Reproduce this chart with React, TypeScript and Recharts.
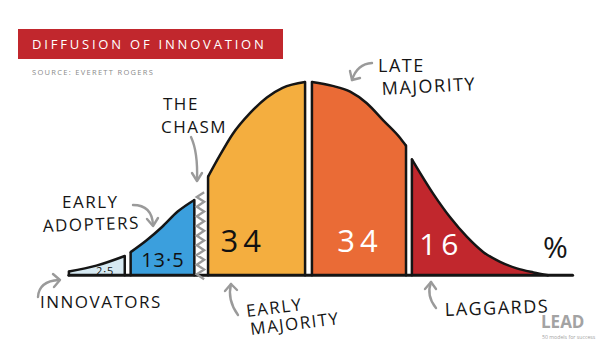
import React from 'react';
import { ComposedChart, Area, Scatter, XAxis, YAxis, ReferenceLine, ReferenceDot } from 'recharts';

// curve: x in standard deviations from the mean, y in % of peak height
const innovatorsX = [-2.45, -2.17, -1.88];
const innovatorsY = [2, 5, 10];
const earlyAdoptersX = [-1.82, -1.66, -1.5, -1.34, -1.17];
const earlyAdoptersY = [12, 18, 25, 33, 39];
const earlyMajorityX = [-1.03, -0.91, -0.78, -0.6, -0.43, -0.27, -0.04];
const earlyMajorityY = [51, 62, 73, 84, 92, 97, 100];
const lateMajorityX = [0.03, 0.24, 0.42, 0.59, 0.76, 0.93, 0.99];
const lateMajorityY = [100, 98, 95, 89, 80, 71, 67];
const laggardsX = [1.05, 1.27, 1.44, 1.61, 1.78, 1.95, 2.12, 2.29, 2.44];
const laggardsY = [60, 42, 30, 20, 12, 7, 3.6, 1.5, 0];

const groupKeys = ['innovators', 'earlyAdopters', 'earlyMajority', 'lateMajority', 'laggards'];
const groupShares = ['2·5', '13·5', '34', '34', '16'];

// the chasm squiggle between early adopters and early majority
const chasmX = [-1.07, -1.145, -1.07, -1.145, -1.07, -1.145, -1.07, -1.145, -1.07, -1.145, -1.07, -1.145, -1.07, -1.145, -1.07, -1.145, -1.07, -1.145, -1.07];
const chasmY = [-2, 0.5, 3, 5.5, 8, 10.5, 13, 15.5, 18, 20.5, 23, 25.5, 28, 30.5, 33, 35.5, 38, 40.5, 43];

const xs = [innovatorsX, earlyAdoptersX, earlyMajorityX, lateMajorityX, laggardsX];
const ys = [innovatorsY, earlyAdoptersY, earlyMajorityY, lateMajorityY, laggardsY];

const fills = ['#d6e9f2', '#3b9fdd', '#f4ae3f', '#ea6b36', '#c1272d'];
const shareColors = ['#111', '#111', '#111', '#fff', '#fff'];
const shareSizes = [11, 20, 31, 31, 30];
const shareSpots = [[-2.08, 2], [-1.49, 8], [-0.67, 18], [0.52, 18], [1.35, 16]];
const baselineEnd = 2.69;

const curveData = groupKeys.flatMap((key, g) => xs[g].map((x, i) => ({ x, [key]: ys[g][i] })));
const chasmData = chasmX.map((x, i) => ({ x, y: chasmY[i] }));

const FONT = '"Open Sans", "DejaVu Sans", sans-serif';
const INK = '#151515';
const GREY = '#9a9a9a';

const Arrow = ({ d, head }: { d: string; head: string }) => (
  <g fill="none" stroke={GREY} strokeWidth={2.4} strokeLinecap="round" strokeLinejoin="round">
    <path d={d} />
    <path d={head} />
  </g>
);

const Note = ({ x, y, children, size = 17, rotate = 0 }: any) => (
  <text x={x} y={y} fontSize={size} fill={INK} fontFamily={FONT} letterSpacing={1.5}
    transform={rotate ? `rotate(${rotate} ${x} ${y})` : undefined}>
    {children}
  </text>
);

const App = () => (
  <div style={{ position: 'absolute', left: 0, top: 0, width: 616, height: 353, background: '#fff', overflow: 'hidden' }}>
    <ComposedChart width={616} height={353} data={curveData} margin={{ top: 82, right: 13, bottom: 68, left: 15 }}>
      <XAxis dataKey="x" type="number" domain={[-3, 3]} hide />
      <YAxis type="number" domain={[-5, 100]} hide />
      {groupKeys.map((key, g) => (
        <Area key={key} dataKey={key} type="monotone" baseValue={0} stroke={INK} strokeWidth={2.5}
          fill={fills[g]} fillOpacity={1} dot={false} activeDot={false} isAnimationActive={false} />
      ))}
      {groupKeys.map((key, g) => {
        const first = xs[g][0];
        const last = xs[g][xs[g].length - 1];
        return [
          <ReferenceLine key={key + 'a'} segment={[{ x: first, y: 0 }, { x: first, y: ys[g][0] }]} stroke={INK} strokeWidth={2.5} strokeLinecap="round" />,
          <ReferenceLine key={key + 'b'} segment={[{ x: last, y: 0 }, { x: last, y: ys[g][ys[g].length - 1] }]} stroke={INK} strokeWidth={2.5} strokeLinecap="round" />,
        ];
      })}
      <ReferenceLine segment={[{ x: innovatorsX[0], y: 0 }, { x: baselineEnd, y: 0 }]} stroke={INK} strokeWidth={3} strokeLinecap="round" />
      <Scatter data={chasmData} dataKey="y" fill={GREY} line={{ stroke: GREY, strokeWidth: 2.4 }}
        shape={() => <g />} isAnimationActive={false} />
      {groupShares.map((s, g) => (
        <ReferenceDot key={'s' + g} x={shareSpots[g][0]} y={shareSpots[g][1]} r={0} stroke="none" fill="none"
          label={{ value: s, position: 'center', fill: shareColors[g], fontSize: shareSizes[g], fontFamily: FONT, letterSpacing: shareSizes[g] > 25 ? 5 : 1 }} />
      ))}
    </ComposedChart>

    <svg width={616} height={353} style={{ position: 'absolute', left: 0, top: 0, pointerEvents: 'none' }}>
      <rect x={18} y={29} width={265} height={30} fill="#c1272d" />
      <text x={32} y={49} fontSize={13} fill="#fff" fontFamily={FONT} letterSpacing={2.8}>DIFFUSION OF INNOVATION</text>
      <text x={32} y={75} fontSize={7.5} fill="#8a8a8a" fontFamily={FONT} letterSpacing={1.3}>SOURCE: EVERETT ROGERS</text>

      <Note x={163} y={110} size={17}>THE</Note>
      <Note x={161} y={133} size={17}>CHASM</Note>
      <Note x={62} y={208} size={17}>EARLY</Note>
      <Note x={43} y={232} size={17} rotate={-2}>ADOPTERS</Note>
      <Note x={40} y={308} size={17}>INNOVATORS</Note>
      <Note x={247} y={317} size={17} rotate={-7}>EARLY</Note>
      <Note x={251} y={335} size={17} rotate={-7}>MAJORITY</Note>
      <Note x={378} y={72} size={18}>LATE</Note>
      <Note x={382} y={95} size={18} rotate={-3}>MAJORITY</Note>
      <Note x={445} y={316} size={18} rotate={-2}>LAGGARDS</Note>
      <Note x={543} y={258} size={30}>%</Note>

      <Arrow d="M38,297 Q39,281 59,280" head="M53,274 L60,280 L54,287" />
      <Arrow d="M133,205 Q152,205 153,225" head="M147,219 L153,226 L158,218" />
      <Arrow d="M191,137 Q198,152 197,180" head="M192,173 L197,181 L202,173" />
      <Arrow d="M238,315 Q227,300 231,284" head="M225,291 L231,284 L237,290" />
      <Arrow d="M372,63 Q357,64 352,80" head="M350,71 L352,80 L360,78" />
      <Arrow d="M436,308 Q426,296 431,282" head="M425,289 L431,282 L436,289" />

      <text x={541} y={328} fontSize={17} fontWeight={700} fill="#a3a3a3" fontFamily={FONT}>LEAD</text>
      <text x={542} y={339} fontSize={5.2} fill="#a3a3a3" fontFamily={FONT}>50 models for success</text>
    </svg>
  </div>
);

export default App;
